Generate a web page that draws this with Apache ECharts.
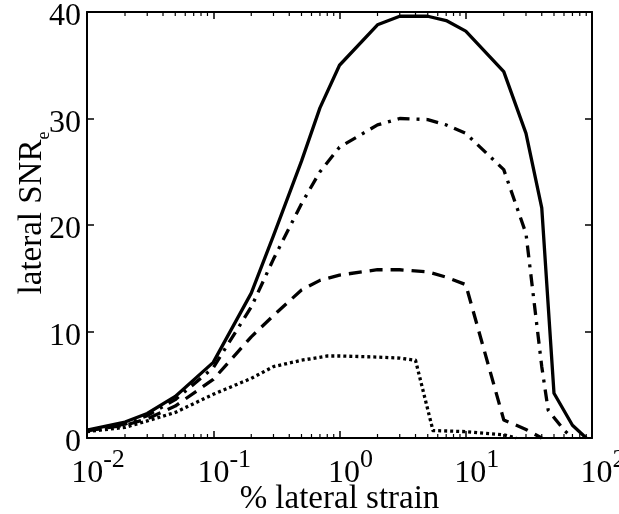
<!DOCTYPE html>
<html>
<head>
<meta charset="utf-8">
<script src="https://cdn.jsdelivr.net/npm/echarts@6/dist/echarts.min.js"></script>
<style>html,body{margin:0;padding:0;background:#fff}#c{width:619px;height:514px}</style>
</head>
<body>
<div id="c"></div>
<script>
// ---- data ----
const solidX = [0.01, 0.02, 0.03, 0.05, 0.1, 0.2, 0.3, 0.5, 0.7, 1, 2, 3, 5, 7, 10, 20, 30, 40, 50, 70, 90];
const solidY = [0.75, 1.5, 2.3, 3.9, 7.1, 13.6, 19.0, 26.0, 31.0, 35.0, 38.8, 39.6, 39.6, 39.2, 38.2, 34.4, 28.6, 21.6, 4.2, 1.2, 0];

const dashDotX = [0.01, 0.02, 0.03, 0.05, 0.1, 0.2, 0.3, 0.5, 0.7, 1, 2, 3, 5, 7, 10, 20, 30, 40, 45, 60, 70];
const dashDotY = [0.7, 1.3, 2.1, 3.6, 6.6, 12.3, 16.8, 22.0, 25.0, 27.3, 29.4, 30.0, 29.9, 29.4, 28.6, 25.2, 19.2, 6.7, 2.6, 0.75, 0];

const dashedX = [0.01, 0.02, 0.03, 0.05, 0.1, 0.2, 0.3, 0.5, 0.7, 1, 2, 3, 5, 7, 10, 20, 30, 40];
const dashedY = [0.7, 1.2, 1.8, 3.0, 5.5, 9.5, 11.5, 13.9, 14.8, 15.3, 15.8, 15.8, 15.6, 15.1, 14.4, 1.7, 0.8, 0];

const dottedX = [0.01, 0.02, 0.03, 0.05, 0.1, 0.2, 0.3, 0.5, 0.8, 1, 2, 3, 4, 5.5, 10, 20, 25];
const dottedY = [0.6, 1.0, 1.6, 2.4, 4.1, 5.6, 6.7, 7.3, 7.7, 7.7, 7.6, 7.5, 7.3, 0.7, 0.6, 0.3, 0];

const xMin = 0.01, xMax = 100;
const yTicks = [0, 10, 20, 30, 40];
const xAxisTitle = '% lateral strain';
const yAxisTitle = 'lateral SNR';
const yAxisSub = 'e';

// minor tick values for the log axis (2..9 within each decade)
const minorTickValues = [];
for (let e = -2; e < 2; e++) {
  for (let m = 2; m <= 9; m++) minorTickValues.push([m * Math.pow(10, e), 0]);
}

const zip = (xs, ys) => xs.map((x, i) => [x, ys[i]]);
const serif = 'Liberation Serif';

const chart = echarts.init(document.getElementById('c'), null, {renderer: 'canvas'});

function lineSeries(name, xs, ys, type, width) {
  return {
    name, type: 'line', data: zip(xs, ys), symbol: 'none', smooth: false,
    xAxisIndex: 0, yAxisIndex: 0, clip: false,
    lineStyle: {color: '#000', width: width, type: type, cap: 'butt', join: 'round'},
    z: 5
  };
}

const option = {
  backgroundColor: '#fff',
  animation: false,
  grid: {left: 87, right: 27, top: 12, bottom: 76, containLabel: false, outerBoundsMode: 'none'},
  xAxis: [{
    type: 'log', logBase: 10, min: xMin, max: xMax, position: 'bottom',
    axisLine: {show: true, onZero: false, lineStyle: {color: '#000', width: 2}},
    axisTick: {show: true, inside: true, length: 7, lineStyle: {color: '#000', width: 1.5}},
    splitLine: {show: false},
    axisLabel: {
      margin: 22,
      padding: [0, 0, 0, 22],
      hideOverlap: false,
      formatter: function (v) {
        const e = Math.round(Math.log10(v));
        return '{b|10}{s|' + e + '}';
      },
      rich: {
        b: {fontFamily: serif, fontSize: 32, color: '#000', lineHeight: 30, verticalAlign: 'bottom'},
        s: {fontFamily: serif, fontSize: 26, color: '#000', lineHeight: 25, padding: [0, 0, 17, 0], verticalAlign: 'bottom'}
      }
    },
    name: xAxisTitle, nameLocation: 'middle', nameGap: 45, nameMoveOverlap: false,
    nameTextStyle: {fontFamily: serif, fontSize: 33, color: '#000'}
  }, {
    type: 'log', logBase: 10, min: xMin, max: xMax, position: 'top',
    axisLine: {show: true, onZero: false, lineStyle: {color: '#000', width: 2}},
    axisTick: {show: true, inside: true, length: 7, lineStyle: {color: '#000', width: 1.5}},
    axisLabel: {show: false}, splitLine: {show: false}
  }],
  yAxis: [{
    type: 'value', min: 0, max: 40, interval: 10, position: 'left',
    axisLine: {show: true, onZero: false, lineStyle: {color: '#000', width: 2}},
    axisTick: {show: true, inside: true, length: 7, lineStyle: {color: '#000', width: 1.5}},
    splitLine: {show: false},
    axisLabel: {margin: 6,
      formatter: v => yTicks.includes(v) ? '{v|' + v + '}' : '',
      rich: {v: {fontFamily: serif, fontSize: 32, color: '#000', lineHeight: 32, padding: [5, 0, 0, 0], verticalAlign: 'top'}}
    },
    name: '{a|' + yAxisTitle + '}{e|' + yAxisSub + '}',
    nameLocation: 'middle', nameGap: 38, nameRotate: 90, nameMoveOverlap: false,
    nameTextStyle: {
      padding: [0, 0, 0, 24],
      rich: {
        a: {fontFamily: serif, fontSize: 33, color: '#000', lineHeight: 36, verticalAlign: 'bottom'},
        e: {fontFamily: serif, fontSize: 18, color: '#000', lineHeight: 18, padding: [0, 0, -4, 0], verticalAlign: 'bottom'}
      }
    }
  }, {
    type: 'value', min: 0, max: 40, interval: 10, position: 'right',
    axisLine: {show: true, onZero: false, lineStyle: {color: '#000', width: 2}},
    axisTick: {show: true, inside: true, length: 7, lineStyle: {color: '#000', width: 1.5}},
    axisLabel: {show: false}, splitLine: {show: false}
  }],
  series: [
    lineSeries('solid', solidX, solidY, 'solid', 3.3),
    lineSeries('dashdot', dashDotX, dashDotY, [12, 7, 3, 7], 3.3),
    lineSeries('dashed', dashedX, dashedY, [13, 8], 3.3),
    lineSeries('dotted', dottedX, dottedY, [3, 3], 3.3),
    {
      name: 'minorTicks', type: 'custom', xAxisIndex: 0, yAxisIndex: 0, clip: false, silent: true,
      data: minorTickValues, z: 3,
      renderItem: function (params, api) {
        const v = api.value(0);
        const b = api.coord([v, 0]);
        const t = api.coord([v, 40]);
        return {
          type: 'group',
          children: [
            {type: 'line', shape: {x1: b[0], y1: b[1], x2: b[0], y2: b[1] - 4}, style: {stroke: '#000', lineWidth: 1.2}},
            {type: 'line', shape: {x1: t[0], y1: t[1], x2: t[0], y2: t[1] + 4}, style: {stroke: '#000', lineWidth: 1.2}}
          ]
        };
      }
    }
  ]
};
chart.setOption(option);
</script>
</body>
</html>
